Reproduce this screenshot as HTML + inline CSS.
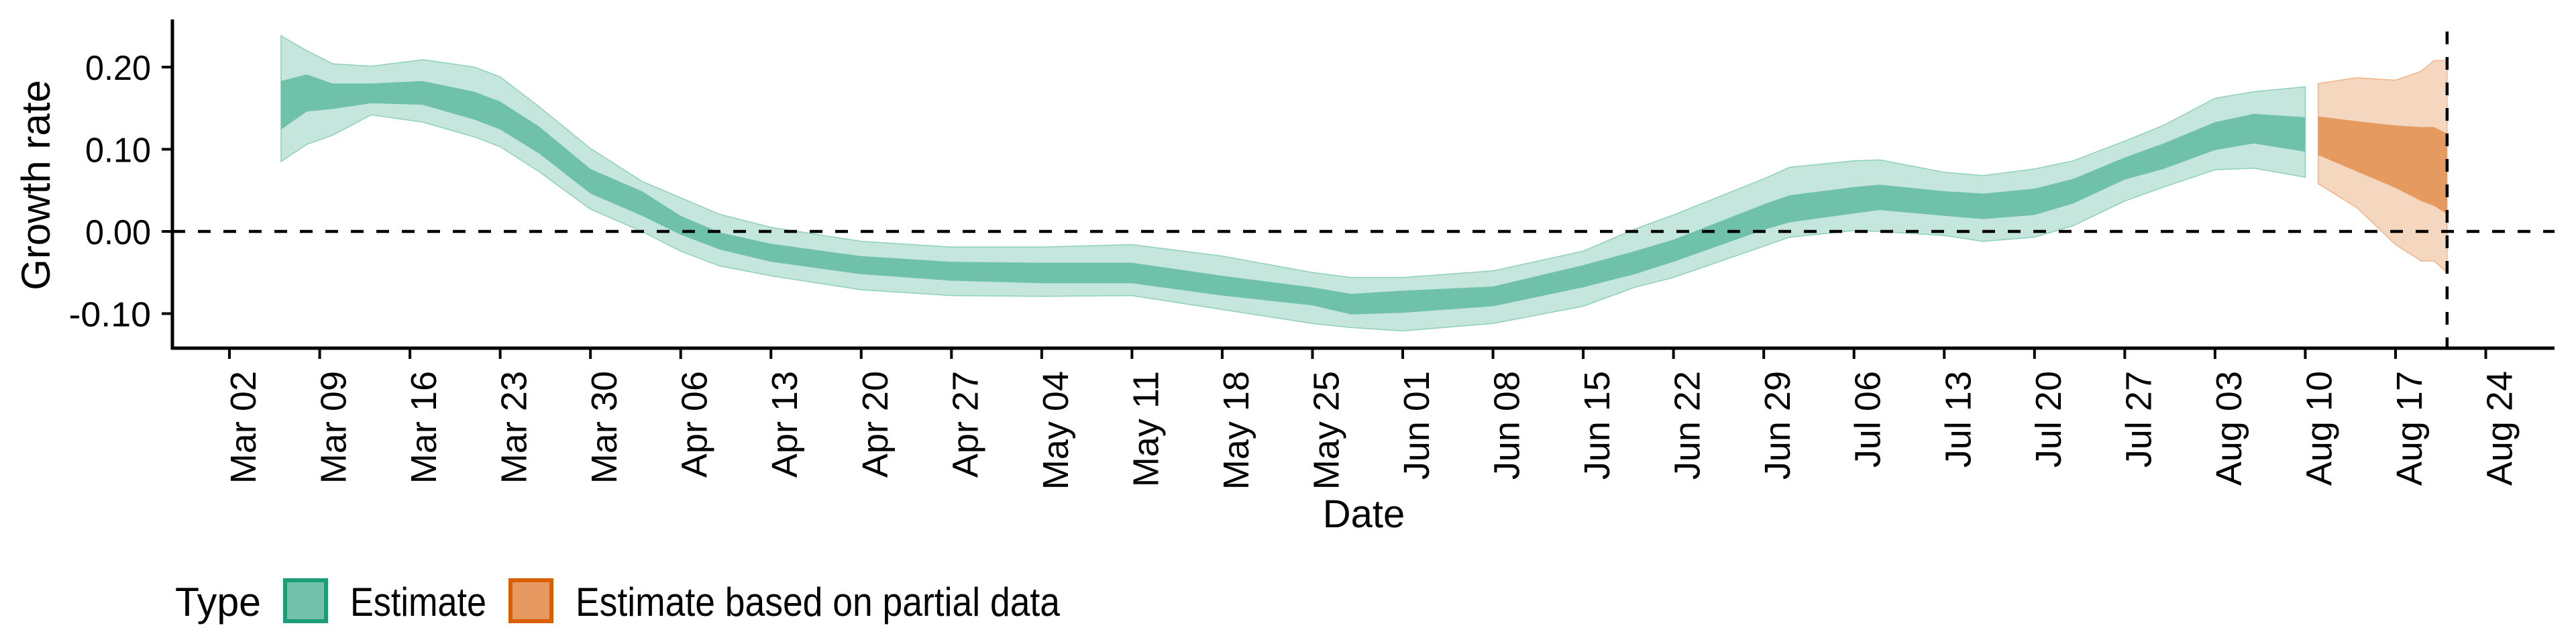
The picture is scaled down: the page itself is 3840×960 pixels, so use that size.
<!DOCTYPE html>
<html><head><meta charset="utf-8"><style>
html,body{margin:0;padding:0;background:#fff;}
svg{display:block;}
text{font-family:"Liberation Sans",Arial,sans-serif;fill:#000;}
</style></head><body>
<svg id="chart" width="3840" height="960" viewBox="0 0 3840 960" xmlns="http://www.w3.org/2000/svg">
<g id="bands"></g>
<g id="axes"></g>
<text transform="translate(74,276) rotate(-90)" text-anchor="middle" font-size="60">Growth rate</text>
<text x="2033" y="786" text-anchor="middle" font-size="58">Date</text>
<g>
<text x="261" y="918" font-size="60" textLength="128" lengthAdjust="spacingAndGlyphs">Type</text>
<rect x="425" y="865" width="61" height="61" fill="#71c2a9" stroke="#1b9e77" stroke-width="6"/>
<text x="522" y="918" font-size="60" textLength="203" lengthAdjust="spacingAndGlyphs">Estimate</text>
<rect x="761" y="865" width="61" height="61" fill="#e69a62" stroke="#d95f02" stroke-width="6"/>
<text x="858" y="918" font-size="60" textLength="722" lengthAdjust="spacingAndGlyphs">Estimate based on partial data</text>
</g>
</svg>
<script>
// days since Mar 02
const greenDays = [4,6,8,11,15,19,21,24,28,32,35,38,42,49,56,63,70,77,84,87,91,98,105,109,112,119,121,126,128,133,136,140,143,147,150,154,157,161];
const greenOuterHi = [.238,.220,.204,.201,.209,.200,.188,.152,.101,.061,.041,.021,.005,-.012,-.019,-.019,-.016,-.030,-.050,-.056,-.056,-.048,-.024,.003,.020,.064,.078,.086,.087,.072,.068,.076,.086,.110,.129,.162,.170,.176];
const greenInnerHi = [.183,.191,.180,.180,.183,.170,.158,.128,.076,.049,.019,-.001,-.015,-.030,-.037,-.038,-.038,-.054,-.068,-.076,-.072,-.067,-.041,-.024,-.010,.033,.044,.054,.057,.049,.046,.052,.064,.090,.107,.133,.143,.139];
const greenInnerLo = [.124,.146,.149,.156,.154,.136,.124,.095,.046,.019,-.004,-.022,-.037,-.052,-.060,-.063,-.063,-.078,-.090,-.101,-.099,-.091,-.068,-.052,-.037,.002,.011,.022,.026,.019,.015,.020,.034,.063,.076,.099,.107,.097];
const greenOuterLo = [.085,.106,.117,.142,.133,.115,.103,.073,.027,.000,-.024,-.042,-.054,-.071,-.078,-.079,-.078,-.095,-.112,-.117,-.121,-.112,-.091,-.068,-.056,-.018,-.007,.001,.000,-.005,-.012,-.007,.007,.037,.054,.075,.077,.066];
const orangeDays = [162,165,168,170,171,172];
const orangeOuterHi = [.180,.187,.184,.195,.208,.208];
const orangeInnerHi = [.140,.134,.129,.127,.127,.119];
const orangeInnerLo = [.093,.073,.053,.037,.031,.021];
const orangeOuterLo = [.058,.029,-.016,-.036,-.036,-.050];
const yTicks = [0.2,0.1,0.0,-0.1];
const yTickLabels = ["0.20","0.10","0.00","-0.10"];
const xTickLabels = ["Mar 02","Mar 09","Mar 16","Mar 23","Mar 30","Apr 06","Apr 13","Apr 20","Apr 27","May 04","May 11","May 18","May 25","Jun 01","Jun 08","Jun 15","Jun 22","Jun 29","Jul 06","Jul 13","Jul 20","Jul 27","Aug 03","Aug 10","Aug 17","Aug 24"];
const xTickDays = [0,7,14,21,28,35,42,49,56,63,70,77,84,91,98,105,112,119,126,133,140,147,154,161,168,175];
const cutoffDay = 172;

const NS = "http://www.w3.org/2000/svg";
const X = d => 342 + d * 19.22;
const Y = v => 345 - v * 1225;
const AX_L = 257, AX_B = 519, AX_T = 29, AX_R = 3808;

function mk(tag, attrs, parent){
  const e = document.createElementNS(NS, tag);
  for (const k in attrs) e.setAttribute(k, attrs[k]);
  parent.appendChild(e);
  return e;
}
function bandPath(days, hi, lo){
  let s = "";
  days.forEach((d,i)=>{ s += (i?"L":"M") + X(d).toFixed(1) + "," + Y(hi[i]).toFixed(1); });
  for (let i = days.length-1; i >= 0; i--) s += "L" + X(days[i]).toFixed(1) + "," + Y(lo[i]).toFixed(1);
  return s + "Z";
}
const bands = document.getElementById("bands");
const axes = document.getElementById("axes");

let p;
p = mk("path", {d: bandPath(greenDays, greenOuterHi, greenOuterLo), fill:"#c5e6dc", stroke:"#8fd0bb", "stroke-width":"1.5"}, bands);


p = mk("path", {d: bandPath(greenDays, greenInnerHi, greenInnerLo), fill:"#70c1aa"}, bands);


p = mk("path", {d: bandPath(orangeDays, orangeOuterHi, orangeOuterLo), fill:"#f5d6be", stroke:"#f0b58a", "stroke-width":"1.5"}, bands);


p = mk("path", {d: bandPath(orangeDays, orangeInnerHi, orangeInnerLo), fill:"#e59a60"}, bands);



let l;
l = mk("line", {x1:AX_L, x2:AX_R, y1:Y(0), y2:Y(0), stroke:"#000", "stroke-width":"4.5", "stroke-dasharray":"19 19"}, axes);


l = mk("line", {x1:X(cutoffDay), x2:X(cutoffDay), y1:47, y2:AX_B, stroke:"#000", "stroke-width":"4.5", "stroke-dasharray":"19 19"}, axes);



l = mk("line", {x1:AX_L, x2:AX_L, y1:AX_T, y2:AX_B+2, stroke:"#000", "stroke-width":"5"}, axes);


l = mk("line", {x1:AX_L-2, x2:AX_R, y1:AX_B, y2:AX_B, stroke:"#000", "stroke-width":"5"}, axes);



yTicks.forEach((v,i)=>{
  const t = mk("line", {x1:AX_L-16, x2:AX_L, y1:Y(v), y2:Y(v), stroke:"#000", "stroke-width":"4"}, axes);
  
  
  const tx = mk("text", {x:225, y:Y(v)+19, "text-anchor":"end", "font-size":"52", textLength: String(yTickLabels[i].length*24.5), lengthAdjust:"spacingAndGlyphs"}, axes);
  tx.textContent = yTickLabels[i];
  
  
});
xTickDays.forEach((d,i)=>{
  const t = mk("line", {x1:X(d), x2:X(d), y1:AX_B, y2:AX_B+16, stroke:"#000", "stroke-width":"4"}, axes);
  
  
  const tx = mk("text", {transform:"translate(" + (X(d)+39).toFixed(1) + ",553) rotate(-90)", "text-anchor":"end", "font-size":"54"}, axes);
  tx.textContent = xTickLabels[i];
  
  
});
</script>
</body></html>
